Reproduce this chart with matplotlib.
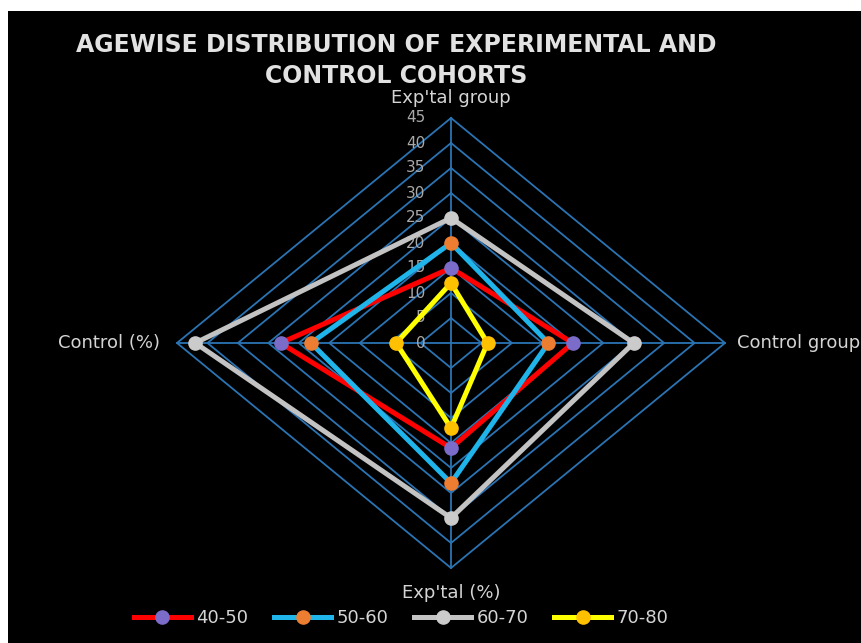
import matplotlib
matplotlib.use("Agg")
import matplotlib.pyplot as plt
from matplotlib.patches import Rectangle
from matplotlib.lines import Line2D
import numpy as np

# Radar chart data: spokes run clockwise from the top
categories = ["Exp'tal group", "Control group", "Exp'tal (%)", "Control (%)"]
age_groups = ["40-50", "50-60", "60-70", "70-80"]
values_40_50 = [15, 20, 21, 28]
values_50_60 = [20, 16, 28, 23]
values_60_70 = [25, 30, 35, 42]
values_70_80 = [12, 6, 17, 9]
series = [values_40_50, values_50_60, values_60_70, values_70_80]
tick_values = [0, 5, 10, 15, 20, 25, 30, 35, 40, 45]
r_max = 45

line_colors = ["#ff0000", "#1fb4ea", "#c3c3c3", "#ffff00"]
marker_colors = ["#7a6cc8", "#ed7d31", "#cbcbcb", "#ffc000"]
grid_color = "#2b74b4"
text_color = "#d4d4d4"
tick_color = "#a9a9a9"
font = "DejaVu Sans"
label_size = 13

n = len(categories)
angles = np.pi / 2 - np.arange(n) * 2 * np.pi / n
ux = np.round(np.cos(angles), 9)
uy = np.round(np.sin(angles), 9)

fig = plt.figure(figsize=(8.62, 6.43), dpi=100, facecolor="white")
fig.add_artist(Rectangle((8 / 862, 0), 1, 1 - 11 / 643, transform=fig.transFigure,
                         facecolor="black", edgecolor="none", zorder=0))

ax = fig.add_axes([177 / 862, 1 - 568 / 643, 548 / 862, 450 / 643])
ax.set_xlim(-r_max, r_max)
ax.set_ylim(-r_max, r_max)
ax.axis("off")

# diamond grid rings and spokes
for t in tick_values[1:]:
    ax.plot(np.append(t * ux, t * ux[0]), np.append(t * uy, t * uy[0]),
            color=grid_color, lw=1.3, zorder=1, clip_on=False)
for x, y in zip(ux, uy):
    ax.plot([0, r_max * x], [0, r_max * y], color=grid_color, lw=1.3, zorder=1, clip_on=False)

# radial tick labels along the top spoke
for t in tick_values:
    ax.text(-4.2, t, str(t), ha="right", va="center", color=tick_color,
            fontsize=11, family=font, zorder=2)

# category labels
ax.text(0, 49, categories[0], ha="center", va="center", color=text_color, fontsize=label_size, family=font)
ax.text(47.0, 0, categories[1], ha="left", va="center", color=text_color, fontsize=label_size, family=font,
        clip_on=False)
ax.text(0, -50, categories[2], ha="center", va="center", color=text_color, fontsize=label_size, family=font)
ax.text(-47.8, 0, categories[3], ha="right", va="center", color=text_color, fontsize=label_size, family=font)

# data series
handles = []
for k, (vals, lc, mc, name) in enumerate(zip(series, line_colors, marker_colors, age_groups)):
    v = np.array(vals, dtype=float)
    xs = np.append(v * ux, v[0] * ux[0])
    ys = np.append(v * uy, v[0] * uy[0])
    ax.plot(xs, ys, color=lc, lw=3.6, zorder=3 + k, solid_joinstyle="miter", clip_on=False)
    ax.plot(v * ux, v * uy, ls="none", marker="o", ms=9.5, mfc=mc, mec=mc, zorder=3 + k, clip_on=False)
    handles.append(Line2D([], [], color=lc, lw=3.6, marker="o", ms=9.5, mfc=mc, mec=mc))

fig.legend(handles, age_groups, ncol=4, loc="center", bbox_to_anchor=(401 / 862, 1 - 618 / 643),
           frameon=False, handlelength=3.2, handletextpad=0.28, columnspacing=1.4,
           labelcolor=text_color, prop={"family": font, "size": label_size})

# two-line title
fig.text(396 / 862, 1 - 45 / 643, "AGEWISE DISTRIBUTION OF EXPERIMENTAL AND", ha="center", va="center",
         color="#e2e2e2", fontsize=17, fontweight="bold", family=font)
fig.text(396 / 862, 1 - 76 / 643, "CONTROL COHORTS", ha="center", va="center",
         color="#e2e2e2", fontsize=17, fontweight="bold", family=font)

fig.savefig("out.png", dpi=100, facecolor=fig.get_facecolor())
